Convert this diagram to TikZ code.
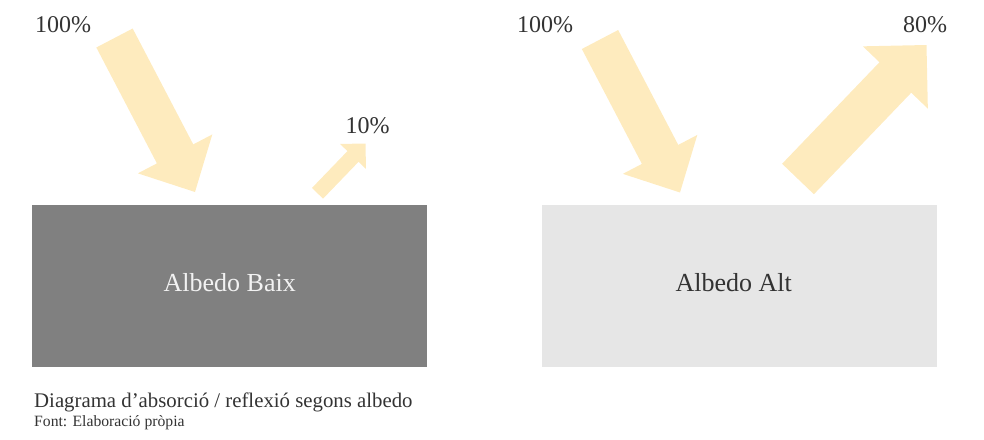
\documentclass[tikz,border=0pt]{standalone}
\usepackage{fontspec}
\setmainfont{Liberation Serif}
\usetikzlibrary{calc, positioning}
\usepackage{xcolor}
\definecolor{sunfill}{HTML}{FEEBBE}
\definecolor{lowfill}{HTML}{808080}
\definecolor{highfill}{HTML}{E6E6E6}
\definecolor{darktxt}{HTML}{333333}
\definecolor{lighttxt}{HTML}{F2F2F2}
\tikzset{
  surf/.style   ={rectangle, inner sep=0pt, anchor=north west,
                  minimum width=395pt, minimum height=162pt},
  pct/.style    ={inner sep=0pt, anchor=base, text=darktxt,
                  font=\fontsize{24}{28}\selectfont},
  lbl/.style    ={inner sep=0pt, anchor=base, font=\fontsize{26}{30}\selectfont},
  caption/.style={inner sep=0pt, anchor=base west, text=darktxt,
                  font=\fontsize{20.8}{24}\selectfont},
  source/.style ={inner sep=0pt, anchor=base west, text=darktxt,
                  font=\fontsize{15.7}{18}\selectfont},
  ray/.style    ={fill=sunfill},
}
% block arrow: tail, tip, half shaft, half head, head length
\newcommand{\sunray}[5]{%
  \coordinate (#1-h) at ($(#2)!#5!(#1)$);
  \fill[ray] ($(#1)!#3!90:(#2)$) -- ($(#1-h)!#3!90:(#2)$) -- ($(#1-h)!#4!90:(#2)$)
    -- (#2) -- ($(#1-h)!#4!-90:(#2)$) -- ($(#1-h)!#3!-90:(#2)$)
    -- ($(#1)!#3!-90:(#2)$) -- cycle;
}

\begin{document}
\begin{tikzpicture}[x=1pt, y=-1pt]
    \useasboundingbox (0,0) rectangle (984,439);
    % surfaces
    \node[surf, fill=lowfill] (low) at (32,205) {};
    \node[surf, fill=highfill] (high) at (542,205) {};
    \node[lbl, text=lighttxt] (lowtxt) at ([yshift=-5pt] low.center) {Albedo Baix};
    \node[lbl, text=darktxt] (hightxt) at ([xshift=-6pt, yshift=-5pt] high.center) {Albedo Alt};
    % rays
    \coordinate (inlow) at (114.5,38);
    \coordinate (inlowend) at (195,192);
    \coordinate (outlow) at (317.5,193.3);
    \coordinate (outlowend) at (365.5,143.5);
    \coordinate (inhigh) at (600,39.5);
    \coordinate (inhighend) at (680,192.5);
    \coordinate (outhigh) at (798,179);
    \coordinate (outhighend) at (926.5,45);
    \sunray{inlow}{inlowend}{20.5pt}{42pt}{43pt}
    \sunray{outlow}{outlowend}{7.7pt}{18pt}{18pt}
    \sunray{inhigh}{inhighend}{20.5pt}{42pt}{43pt}
    \sunray{outhigh}{outhighend}{22pt}{45pt}{45pt}
    % percentages
    \node[pct] (pinlow) at (63,32) {100\%};
    \node[pct] (poutlow) at (367.5,133) {10\%};
    \node[pct] (pinhigh) at (545,32) {100\%};
    \node[pct] (pouthigh) at (925,32) {80\%};
    % caption
    \node[caption] (cap) at (34,407) {Diagrama d’absorció / reflexió segons albedo};
    \node[source] (src) at (34,426) {Font: Elaboració pròpia};
  \end{tikzpicture}
\end{document}
